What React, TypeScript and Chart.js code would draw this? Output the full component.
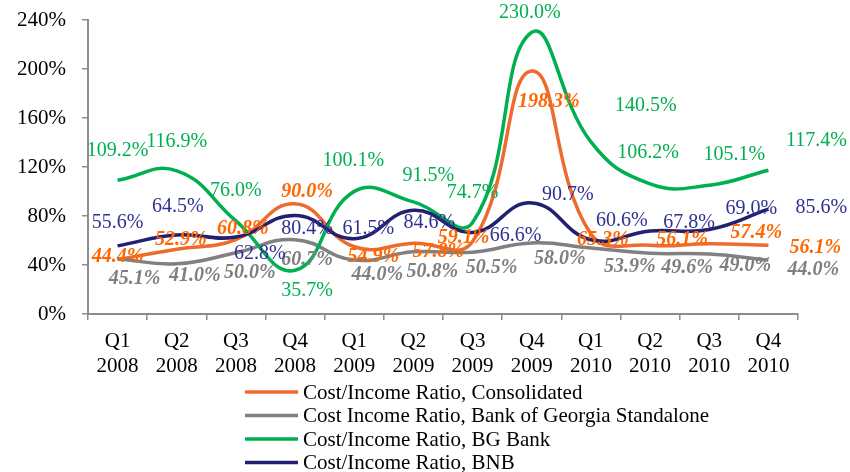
import React, { useEffect, useRef } from "react";
import { Chart, registerables } from "chart.js";

Chart.register(...registerables);

const CATEGORIES: string[][] = [
  ["Q1", "2008"], ["Q2", "2008"], ["Q3", "2008"], ["Q4", "2008"],
  ["Q1", "2009"], ["Q2", "2009"], ["Q3", "2009"], ["Q4", "2009"],
  ["Q1", "2010"], ["Q2", "2010"], ["Q3", "2010"], ["Q4", "2010"],
];

const CONSOLIDATED = [44.4, 52.9, 60.8, 90.0, 54.9, 57.8, 59.1, 198.3, 65.3, 56.1, 57.4, 56.1];
const STANDALONE = [45.1, 41.0, 50.0, 60.7, 44.0, 50.8, 50.5, 58.0, 53.9, 49.6, 49.0, 44.0];
const BG_BANK = [109.2, 116.9, 76.0, 35.7, 100.1, 91.5, 74.7, 230.0, 140.5, 106.2, 105.1, 117.4];
const BNB = [55.6, 64.5, 62.8, 80.4, 61.5, 84.6, 66.6, 90.7, 60.6, 67.8, 69.0, 85.6];

const SERIES_NAMES = [
  "Cost/Income Ratio, Consolidated",
  "Cost Income Ratio, Bank of Georgia Standalone",
  "Cost/Income Ratio, BG Bank",
  "Cost/Income Ratio, BNB",
];

const Y_MIN = 0;
const Y_MAX = 240;
const Y_STEP = 40;

// label placement offsets (px) relative to each point, per series
const LABEL_DX = [
  [0, 4, 7, 12, 19, 25, -9, 17, 12, 32, 47, 47],
  [17, 18, 14, 12, 23, 19, 19, 28, 39, 37, 36, 45],
  [0, 0, 0, 12, -1, 15, 0, -2, 55, -2, 25, 48],
  [0, 1, 24, 12, 14, 16, 43, 36, 31, 39, 42, 53],
];
const LABEL_DY = [
  [-3, -9, -11, -12, 10, 9, -4, 31, 6, -5, -11, 3],
  [20, 12, 20, 20, 15, 20, 16, 16, 19, 15, 12, 10],
  [-29, -29, -30, 20, -31, -26, -30, -20, -36, -31, -31, -29],
  [-23, -28, 17, 13, -10, 12, 3, -8, -19, -8, -21, -1],
];

const LINE_COLORS = ["#EE6B2F", "#808080", "#00B050", "#222070"];
const TEXT_COLORS = ["#FF6600", "#7F7F7F", "#00B050", "#2E3192"];
const TEXT_STYLES = ["italic bold", "italic bold", "", ""];
const FONT = "'Liberation Serif', 'Times New Roman', serif";

const labelPlugin = {
  id: "valueLabels",
  afterDatasetsDraw(chart: any) {
    const ctx = chart.ctx;
    ctx.save();
    ctx.textAlign = "center";
    ctx.textBaseline = "middle";
    chart.data.datasets.forEach((ds: any, di: number) => {
      const meta = chart.getDatasetMeta(di);
      ctx.font = `${TEXT_STYLES[di]} 20px ${FONT}`.trim();
      ctx.fillStyle = TEXT_COLORS[di];
      meta.data.forEach((pt: any, i: number) => {
        const v = ds.data[i];
        ctx.fillText(v.toFixed(1) + "%", pt.x + LABEL_DX[di][i], pt.y + LABEL_DY[di][i]);
      });
    });
    ctx.restore();
  },
};

const legendPlugin = {
  id: "customLegend",
  afterDraw(chart: any) {
    const ctx = chart.ctx;
    ctx.save();
    ctx.font = `21px ${FONT}`;
    ctx.textAlign = "left";
    ctx.textBaseline = "middle";
    SERIES_NAMES.forEach((name, i) => {
      const y = 392 + i * 23.5;
      ctx.strokeStyle = LINE_COLORS[i];
      ctx.lineWidth = 3.5;
      ctx.beginPath();
      ctx.moveTo(245, y);
      ctx.lineTo(298, y);
      ctx.stroke();
      ctx.fillStyle = "#000";
      ctx.fillText(name, 303, y + 1);
    });
    ctx.restore();
  },
};

export default function App() {
  const ref = useRef<HTMLCanvasElement | null>(null);
  useEffect(() => {
    if (!ref.current) return;
    const seriesData = [CONSOLIDATED, STANDALONE, BG_BANK, BNB];
    const chart = new Chart(ref.current, {
      type: "line",
      data: {
        labels: CATEGORIES,
        datasets: seriesData.map((d, i) => ({
          label: SERIES_NAMES[i],
          data: d,
          borderColor: LINE_COLORS[i],
          backgroundColor: LINE_COLORS[i],
          borderWidth: 3.5,
          pointRadius: 0,
          tension: 0.45,
          fill: false,
          order: 4 - i,
        })),
      },
      options: {
        responsive: false,
        animation: false,
        layout: { padding: { top: 20, right: 52, bottom: 98, left: 12 } },
        plugins: {
          legend: { display: false },
          tooltip: { enabled: false },
        },
        scales: {
          x: {
            offset: true,
            afterFit: (s: any) => { s.height = 60; },
            grid: {
              offset: true,
              drawOnChartArea: false,
              drawTicks: true,
              tickLength: 6,
              color: "#8C8C8C",
              lineWidth: 1.5,
            },
            border: { color: "#8C8C8C", width: 2 },
            ticks: {
              color: "#000",
              font: { family: FONT, size: 21 },
              padding: 9,
              maxRotation: 0,
              autoSkip: false,
            },
          },
          y: {
            min: Y_MIN,
            max: Y_MAX,
            afterFit: (s: any) => {
              s.width = 76;
              s.paddingTop = 0;
              s.paddingBottom = 0;
            },
            grid: {
              drawOnChartArea: false,
              drawTicks: true,
              tickLength: 6,
              color: "#8C8C8C",
              lineWidth: 1.5,
            },
            border: { color: "#8C8C8C", width: 2 },
            ticks: {
              stepSize: Y_STEP,
              color: "#000",
              font: { family: FONT, size: 21 },
              padding: 16,
              callback: (v: any) => v + "%",
            },
          },
        },
      },
      plugins: [labelPlugin, legendPlugin],
    });
    return () => chart.destroy();
  }, []);
  return (
    <div style={{ position: "absolute", left: 0, top: 0, width: 850, height: 472, background: "#fff" }}>
      <canvas ref={ref} width={850} height={472} style={{ display: "block" }} />
    </div>
  );
}
